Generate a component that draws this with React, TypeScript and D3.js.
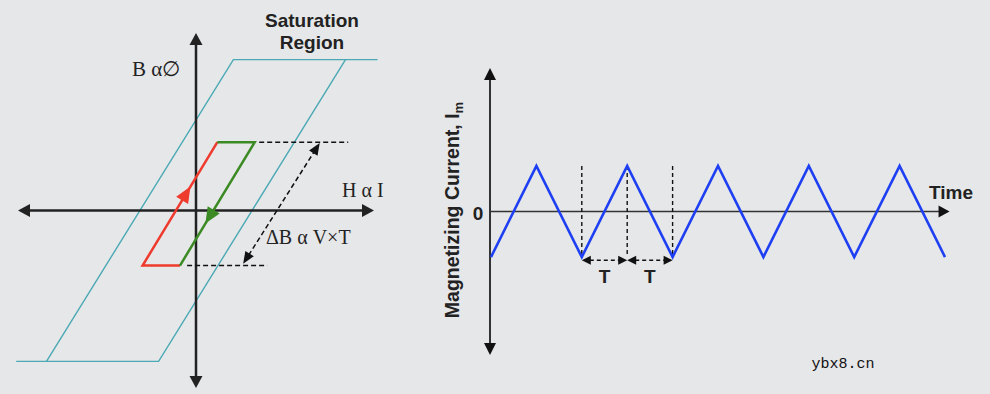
import React from 'react';
import * as d3 from 'd3';

// ---- left panel: B-H loop, values in axis units ----
const satUpper: [number, number][] = [[-8.4, -8.5], [2.1, 8.5], [10.2, 8.5]];
const satLower: [number, number][] = [[-10.1, -8.5], [-2.1, -8.5], [8.4, 8.5]];
const redLoop: [number, number][] = [[-0.9, -3.1], [-3.0, -3.1], [1.2, 3.85]];
const greenLoop: [number, number][] = [[1.2, 3.85], [3.3, 3.85], [-0.9, -3.1]];
const dashTop: [number, number][] = [[3.55, 3.85], [8.55, 3.85]];
const dashBottom: [number, number][] = [[-0.5, -3.1], [4.0, -3.1]];
const deltaArrow: [number, number][] = [[2.65, -3.0], [6.95, 3.8]];
const flowArrowAt = [0.64, 0.66]; // fraction along the red / green slope

// ---- right panel: magnetizing current vs time (time in units of T) ----
const timeSteps = [0, 1, 2, 3, 4, 5, 6, 7, 8, 9, 10];
const currentValues = [-1, 1, -1, 1, -1, 1, -1, 1, -1, 1, -1];
const periodMarks = [2, 3, 4];
const periodLabels = ['T', 'T'];

const W = 990;
const H = 394;
const sans = 'Arial, "Liberation Sans", sans-serif';
const serif = '"Times New Roman", "Liberation Serif", serif';

type P = [number, number];

// triangle pointing at tip, coming from `from`
function head(tip: P, from: P, len: number, hw: number) {
  const dx = tip[0] - from[0], dy = tip[1] - from[1];
  const d = Math.hypot(dx, dy);
  const ux = dx / d, uy = dy / d;
  const bx = tip[0] - ux * len, by = tip[1] - uy * len;
  return `${tip[0]},${tip[1]} ${bx - uy * hw},${by + ux * hw} ${bx + uy * hw},${by - ux * hw}`;
}

function back(tip: P, from: P, k: number): P {
  const dx = tip[0] - from[0], dy = tip[1] - from[1];
  const d = Math.hypot(dx, dy);
  return [tip[0] - (dx / d) * k, tip[1] - (dy / d) * k];
}

const App = () => {
  // scales
  const hx = d3.scaleLinear().domain([-10, 10]).range([18, 374]);
  const hy = d3.scaleLinear().domain([-10, 10]).range([388, 33]);
  const tx = d3.scaleLinear().domain([0, 10]).range([491, 945]);
  const iy = d3.scaleLinear().domain([-3.15, 3.15]).range([355, 68]);

  const bhLine = d3.line<P>().x(d => hx(d[0])).y(d => hy(d[1]));
  const wave = d3.line<number>().x((_, i) => tx(timeSteps[i])).y(d => iy(d));

  const px = (p: P): P => [hx(p[0]), hy(p[1])];

  // left axes
  const hLeft: P = [hx(-10), hy(0)], hRight: P = [hx(10), hy(0)];
  const bTop: P = [hx(0), hy(10)], bBot: P = [hx(0), hy(-10)];

  // flow arrows on the minor loop
  const redA = px(redLoop[1]), redB = px(redLoop[2]);
  const redTip: P = [redA[0] + (redB[0] - redA[0]) * flowArrowAt[0], redA[1] + (redB[1] - redA[1]) * flowArrowAt[0]];
  const grA = px(greenLoop[1]), grB = px(greenLoop[2]);
  const grTip: P = [grA[0] + (grB[0] - grA[0]) * flowArrowAt[1], grA[1] + (grB[1] - grA[1]) * flowArrowAt[1]];

  const dA = px(deltaArrow[0]), dB = px(deltaArrow[1]);

  // right axes
  const yTop: P = [tx(0) - 1, iy(3.15)], yBot: P = [tx(0) - 1, iy(-3.15)];
  const tEnd: P = [tx(10.1), iy(0)], tStart: P = [tx(0) - 1, iy(0)];
  const arrowY = iy(-1.07);

  return (
    <svg width={W} height={H} style={{ position: 'absolute', left: 0, top: 0, display: 'block' }}>
      <rect width={W} height={H} fill="#e6e7e9" />

      {/* ---------- left: hysteresis ---------- */}
      <g fill="none" stroke="#4aa9b4" strokeWidth={1.4}>
        <path d={bhLine(satUpper) || ''} />
        <path d={bhLine(satLower) || ''} />
      </g>

      {/* axes */}
      <g stroke="#222" strokeWidth={2.5}>
        <line x1={back(hLeft, hRight, 6)[0]} y1={hLeft[1]} x2={back(hRight, hLeft, 6)[0]} y2={hRight[1]} />
        <line x1={bTop[0]} y1={back(bTop, bBot, 6)[1]} x2={bBot[0]} y2={back(bBot, bTop, 6)[1]} />
      </g>
      <g fill="#222">
        <polygon points={head(hRight, hLeft, 12, 6.5)} />
        <polygon points={head(hLeft, hRight, 12, 6.5)} />
        <polygon points={head(bTop, bBot, 12, 6.5)} />
        <polygon points={head(bBot, bTop, 12, 6.5)} />
      </g>

      {/* minor loop */}
      <path d={bhLine(redLoop) || ''} fill="none" stroke="#ee3b2d" strokeWidth={2.5} strokeLinejoin="miter" />
      <path d={bhLine(greenLoop) || ''} fill="none" stroke="#3b8a24" strokeWidth={2.5} strokeLinejoin="miter" />
      <polygon points={head(redTip, redA, 16, 7)} fill="#ee3b2d" />
      <polygon points={head(grTip, grA, 16, 7)} fill="#3b8a24" />

      {/* delta B markers */}
      <g stroke="#111" strokeWidth={1.5} strokeDasharray="5,3" fill="none">
        <path d={bhLine(dashTop) || ''} />
        <path d={bhLine(dashBottom) || ''} />
        <line x1={back(dA, dB, 10)[0]} y1={back(dA, dB, 10)[1]} x2={back(dB, dA, 10)[0]} y2={back(dB, dA, 10)[1]} />
      </g>
      <g fill="#111">
        <polygon points={head(dB, dA, 12, 5)} />
        <polygon points={head(dA, dB, 12, 5)} />
      </g>

      <g fontFamily={serif} fill="#222">
        <text x={132} y={76} fontSize={21}>B α∅</text>
        <text x={342} y={197} fontSize={20}>H α I</text>
        <text x={266} y={244} fontSize={20}>ΔB α V×T</text>
      </g>
      <g fontFamily={sans} fontWeight="bold" fontSize={19} fill="#222" textAnchor="middle">
        <text x={312} y={27}>Saturation</text>
        <text x={312} y={49}>Region</text>
      </g>

      {/* ---------- right: magnetizing current ---------- */}
      <line x1={tStart[0]} y1={tStart[1]} x2={back(tEnd, tStart, 6)[0]} y2={tEnd[1]} stroke="#333" strokeWidth={1.6} />
      <polygon points={head(tEnd, tStart, 11, 6)} fill="#111" />
      <line x1={yTop[0]} y1={back(yTop, yBot, 6)[1]} x2={yBot[0]} y2={back(yBot, yTop, 6)[1]} stroke="#333" strokeWidth={2} />
      <polygon points={head(yTop, yBot, 12, 6)} fill="#111" />
      <polygon points={head(yBot, yTop, 12, 6)} fill="#111" />

      <g stroke="#111" strokeWidth={1.4} strokeDasharray="4,3">
        {periodMarks.map(t => (
          <line key={t} x1={tx(t)} x2={tx(t)} y1={iy(1)} y2={iy(-1)} />
        ))}
        {periodLabels.map((_, i) => (
          <line key={'a' + i} x1={tx(periodMarks[i]) + 8} x2={tx(periodMarks[i + 1]) - 8} y1={arrowY} y2={arrowY} />
        ))}
      </g>
      <g fill="#111">
        {periodLabels.map((_, i) => {
          const a: P = [tx(periodMarks[i]), arrowY], b: P = [tx(periodMarks[i + 1]), arrowY];
          return (
            <g key={i}>
              <polygon points={head(a, b, 9, 4.5)} />
              <polygon points={head(b, a, 9, 4.5)} />
            </g>
          );
        })}
      </g>

      <path d={wave(currentValues) || ''} fill="none" stroke="#1e3ff2" strokeWidth={2.6} strokeLinejoin="miter" />

      <g fontFamily={sans} fontWeight="bold" fontSize={19} fill="#222">
        {periodLabels.map((l, i) => (
          <text key={i} x={tx(periodMarks[i] + 0.5)} y={283} textAnchor="middle">{l}</text>
        ))}
        <text x={478} y={220} textAnchor="middle">0</text>
        <text x={929} y={199}>Time</text>
        <text transform="translate(459,210) rotate(-90)" textAnchor="middle" fontSize={19.5}>
          Magnetizing Current, I<tspan fontSize={13} dy={4}>m</tspan>
        </text>
      </g>

      <text x={843} y={368} textAnchor="middle" fontFamily='"Liberation Mono", "DejaVu Sans Mono", monospace' fontSize={15} fill="#111">ybx8.cn</text>
    </svg>
  );
};

export default App;
